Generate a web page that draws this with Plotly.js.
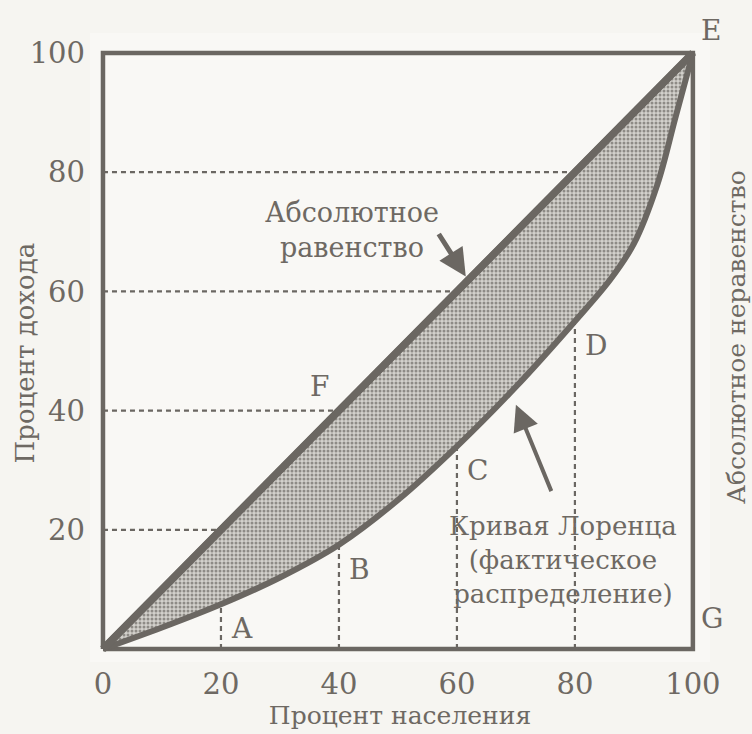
<!DOCTYPE html>
<html><head><meta charset="utf-8">
<script src="https://cdn.plot.ly/plotly-3.0.1.min.js"></script>
<style>html,body{margin:0;padding:0;background:#f6f5f1;}#chart{width:752px;height:734px;}</style>
</head><body><div id="chart"></div>
<script>
// ---- data ----
const tickValues = [0, 20, 40, 60, 80, 100];
const tickLabelsX = ['0', '20', '40', '60', '80', '100'];
const tickLabelsY = ['', '20', '40', '60', '80', '100'];
const equalityX = [0, 100];
const equalityY = [0, 100];
const lorenzX = [0, 10, 20, 30, 40, 50, 60, 70, 80, 86, 90, 94, 97, 100];
const lorenzY = [0, 3.6, 7.5, 12, 17.5, 25, 34, 44, 55, 62, 68, 78, 89, 100];
const guideValues = [20, 40, 60, 80];
const curvePointLabels = ['A', 'B', 'C', 'D'];
const xTitle = 'Процент населения';
const yTitle = 'Процент дохода';
const equalityLabel = 'Абсолютное<br>равенство';
const lorenzLabel = 'Кривая Лоренца<br>(фактическое<br>распределение)';
const inequalityLabel = 'Абсолютное неравенство';

const ink = '#6b6762';
const txt = '#6e6963';
const serif = 'DejaVu Serif, Liberation Serif, serif';

// frame
const frameX = [0, 100, 100, 0, 0];
const frameY = [0, 0, 100, 100, 0];

// guide dashed lines built from guide values
const gX = [], gY = [];
guideValues.forEach(v => {
  gX.push(0, v, null, v, v, null);
  gY.push(v, v, null, 0, v, null);
});

function interp(xs, ys, x) {
  for (let i = 0; i < xs.length - 1; i++) {
    if (x >= xs[i] && x <= xs[i + 1]) {
      const t = (x - xs[i]) / (xs[i + 1] - xs[i]);
      return ys[i] + t * (ys[i + 1] - ys[i]);
    }
  }
  return ys[ys.length - 1];
}

const traces = [
  {x: gX, y: gY, mode: 'lines', line: {color: ink, width: 2.2, dash: '5px,4px'}, hoverinfo: 'skip', showlegend: false},
  {x: frameX, y: frameY, mode: 'lines', line: {color: ink, width: 4.5}, hoverinfo: 'skip', showlegend: false},
  {x: equalityX, y: equalityY, mode: 'lines', line: {color: ink, width: 7}, hoverinfo: 'skip', showlegend: false},
  {x: lorenzX, y: lorenzY, mode: 'lines', fill: 'tonexty',
   fillcolor: '#b9b7b2',
   fillpattern: {shape: '.', size: 4, solidity: 0.45, fgcolor: '#8e8b86', bgcolor: '#d3d1cc'},
   line: {color: ink, width: 6, shape: 'spline', smoothing: 1}, hoverinfo: 'skip', showlegend: false},
  {x: equalityX, y: equalityY, mode: 'lines', line: {color: ink, width: 7.5}, hoverinfo: 'skip', showlegend: false}
];

const letterFont = {family: serif, size: 28, color: txt};
const annotations = [];
curvePointLabels.forEach((lab, i) => {
  const gx = guideValues[i];
  annotations.push({x: gx, y: interp(lorenzX, lorenzY, gx), xref: 'x', yref: 'y', text: lab,
    showarrow: false, xanchor: 'left', yanchor: 'top', xshift: 8, yshift: -6, font: letterFont});
});
annotations.push({x: 40, y: 40, xref: 'x', yref: 'y', text: 'F', showarrow: false,
  xanchor: 'right', yanchor: 'bottom', xshift: -8, yshift: 6, font: letterFont});
annotations.push({x: 100, y: 100, xref: 'x', yref: 'y', text: 'E', showarrow: false,
  xanchor: 'left', yanchor: 'bottom', xshift: 6, yshift: 4, font: letterFont});
annotations.push({x: 100, y: 0, xref: 'x', yref: 'y', text: 'G', showarrow: false,
  xanchor: 'left', yanchor: 'bottom', xshift: 6, yshift: 12, font: letterFont});
annotations.push({x: 42.2, y: 70.3, xref: 'x', yref: 'y', text: equalityLabel, showarrow: false,
  align: 'center', font: {family: serif, size: 27, color: txt}});
annotations.push({x: 61.5, y: 62.5, xref: 'x', yref: 'y', text: '', showarrow: true,
  ax: -28, ay: -44, arrowhead: 2, arrowsize: 1.1, arrowwidth: 5, arrowcolor: ink});
annotations.push({x: 70, y: 41, xref: 'x', yref: 'y', text: '', showarrow: true,
  ax: 36, ay: 88, arrowhead: 2, arrowsize: 1.3, arrowwidth: 4, arrowcolor: ink});
annotations.push({x: 78, y: 15, xref: 'x', yref: 'y', text: lorenzLabel, showarrow: false,
  align: 'center', font: {family: serif, size: 26, color: txt}});
annotations.push({x: 1, y: 0.5, xref: 'paper', yref: 'paper', text: inequalityLabel, showarrow: false,
  textangle: -90, xanchor: 'left', xshift: 10, yshift: 10, font: {family: serif, size: 25, color: txt}});
annotations.push({x: -0.105, y: 0.5, xref: 'paper', yref: 'paper', text: yTitle, showarrow: false,
  textangle: -90, xanchor: 'center', yshift: -5, font: {family: serif, size: 26, color: txt}});

const layout = {
  width: 752, height: 734,
  paper_bgcolor: '#f6f5f1', plot_bgcolor: '#f9f8f5',
  margin: {l: 90, r: 42, t: 33, b: 72},
  showlegend: false,
  xaxis: {range: [-2.2, 102.9], tickvals: tickValues, ticktext: tickLabelsX, showgrid: false, zeroline: false,
    showline: false, ticks: '', ticklabelstandoff: 2, tickfont: {family: serif, size: 29, color: txt},
    title: {text: xTitle, font: {family: serif, size: 25, color: txt}, standoff: 2}, fixedrange: true},
  yaxis: {range: [-2.18, 103.35], tickvals: tickValues, ticktext: tickLabelsY, showgrid: false, zeroline: false,
    showline: false, ticks: '', ticklabelstandoff: 4, tickfont: {family: serif, size: 29, color: txt},
    fixedrange: true},
  annotations: annotations
};

Plotly.newPlot('chart', traces, layout, {displayModeBar: false, staticPlot: true});
</script></body></html>
